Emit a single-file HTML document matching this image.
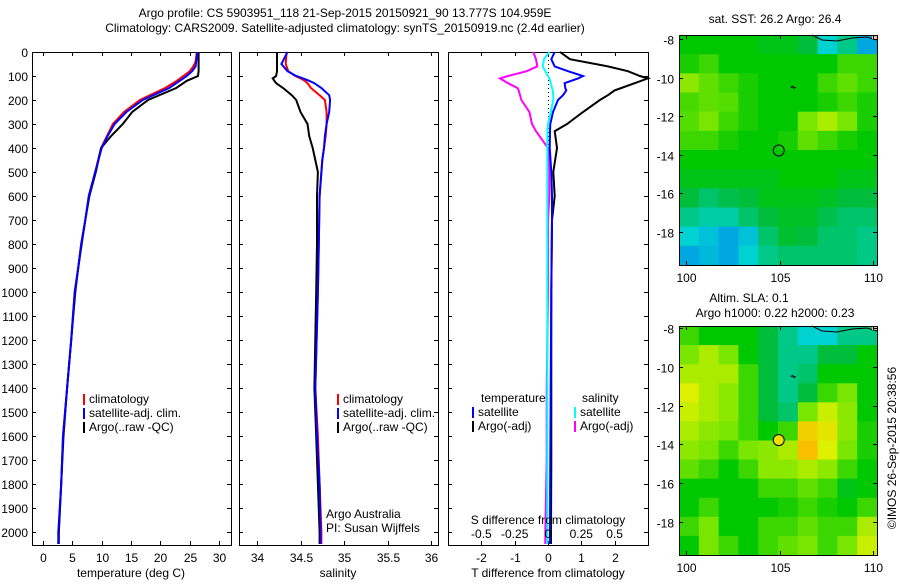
<!DOCTYPE html>
<html><head><meta charset="utf-8"><style>
body{margin:0;background:#fff}
svg text{font-family:"Liberation Sans",sans-serif;font-size:12px;fill:#000}
</style></head><body>
<svg id="c" width="900" height="580" xmlns="http://www.w3.org/2000/svg">
<text x="345" y="17" text-anchor="middle">Argo profile: CS 5903951_118 21-Sep-2015 20150921_90 13.777S 104.959E</text>
<text x="345" y="42" text-anchor="middle" dy="-10">Climatology: CARS2009. Satellite-adjusted climatology: synTS_20150919.nc (2.4d earlier)</text>
</svg>
<script>
// ---- data ----
const tDepth=[0,20,40,60,80,100,120,150,200,250,300,350,400,500,600,700,800,900,1000,1200,1400,1600,1800,2000,2050];
const tClim=[26.2,26.1,26.0,25.6,25.0,23.9,22.8,20.8,16.5,13.8,11.9,10.9,9.9,8.9,7.8,7.2,6.5,6.0,5.4,4.8,4.1,3.4,3.1,2.7,2.6];
const tSat=[26.3,26.2,26.1,26.0,25.4,24.5,23.3,21.5,17.0,14.2,12.2,11.0,10.0,8.9,7.8,7.2,6.5,6.0,5.4,4.8,4.1,3.4,3.1,2.6,2.6];
const tArgo=[26.5,26.5,26.5,26.5,26.5,26.4,24.5,22.7,17.9,15.2,13.6,11.6,9.9,9.0,7.9,7.2,6.6,6.0,5.5,4.8,4.1,3.5,3.1,2.7,2.7];
const sDepth=[0,50,80,100,110,120,130,150,180,200,250,300,350,400,450,500,600,800,1000,1400,1600,1800,2000,2050];
const sClim=[34.34,34.33,34.36,34.44,34.5,34.55,34.58,34.62,34.72,34.78,34.8,34.8,34.79,34.77,34.75,34.74,34.72,34.71,34.7,34.67,34.7,34.72,34.74,34.74];
const sSat=[34.35,34.28,34.35,34.45,34.53,34.6,34.66,34.74,34.83,34.84,34.83,34.8,34.78,34.77,34.75,34.74,34.72,34.71,34.7,34.67,34.69,34.72,34.73,34.73];
const sArgo=[34.23,34.23,34.23,34.22,34.18,34.2,34.22,34.3,34.4,34.45,34.5,34.58,34.6,34.64,34.67,34.7,34.69,34.69,34.68,34.66,34.68,34.7,34.72,34.72];
const dDepth=[0,30,60,80,100,110,130,150,160,180,200,250,300,330,400,500,600,700,1000,1400,1700,2000,2050];
const dTArgo=[0.36,0.66,1.8,2.4,2.76,3.0,2.6,2.2,2.0,1.8,1.56,1.05,0.57,0.2,0.27,0.16,0.2,0.12,0.1,0.1,0.1,0.09,0.09];
const dTSat=[0.2,0.1,0.2,0.6,1.05,0.9,0.5,0.52,0.55,0.45,0.3,0.15,0.07,0.06,0.05,0.1,0.12,0.12,0.1,0.08,0.07,0.06,0.06];
const dSArgo=[-0.11,-0.09,-0.08,-0.16,-0.3,-0.36,-0.3,-0.23,-0.22,-0.21,-0.2,-0.14,-0.12,-0.09,0,0.01,0.01,0.0,0.0,-0.01,-0.01,-0.02,-0.02];
const dSSat=[0.01,-0.03,-0.04,-0.02,0,0.01,0.02,0.03,0.035,0.04,0.04,0.02,0,-0.005,-0.005,-0.005,-0.005,-0.005,-0.005,-0.005,-0.005,-0.005,-0.005];
const depthTicks=[0,100,200,300,400,500,600,700,800,900,1000,1100,1200,1300,1400,1500,1600,1700,1800,1900,2000];
const tTicks=[0,5,10,15,20,25,30];
const sTicks=[34,34.5,35,35.5,36];
const dTTicks=[-2,-1,0,1,2];
const dSTicks=[-0.5,-0.25,0,0.25,0.5];
const dSTickLabels=["-0.5","-0.25","0","0.25","0.5"];
const sstGrid=[
[.5,.5,.5,.5,.48,.48,.45,.35,.4,.3],
[.52,.55,.5,.5,.5,.5,.5,.5,.55,.55],
[.62,.58,.55,.52,.5,.5,.5,.55,.58,.55],
[.56,.58,.57,.52,.5,.5,.5,.52,.55,.52],
[.57,.6,.55,.52,.5,.5,.6,.65,.6,.52],
[.55,.55,.52,.5,.5,.52,.58,.55,.52,.5],
[.5,.5,.5,.5,.5,.5,.5,.5,.5,.5],
[.48,.48,.48,.48,.48,.5,.5,.5,.48,.48],
[.45,.42,.44,.45,.48,.48,.48,.47,.45,.45],
[.4,.38,.38,.42,.45,.47,.47,.44,.42,.42],
[.35,.33,.3,.33,.42,.46,.45,.42,.42,.4],
[.3,.32,.3,.35,.4,.42,.42,.42,.42,.4]];
const slaGrid=[
[.55,.5,.5,.5,.45,.4,.35,.35,.4,.4],
[.6,.65,.6,.5,.45,.4,.4,.45,.45,.5],
[.65,.65,.65,.55,.45,.4,.42,.5,.5,.5],
[.7,.65,.62,.55,.45,.4,.45,.55,.6,.5],
[.68,.65,.62,.55,.45,.42,.6,.68,.62,.5],
[.65,.62,.6,.55,.5,.55,.75,.72,.62,.52],
[.62,.6,.55,.6,.62,.65,.78,.7,.6,.52],
[.58,.55,.5,.55,.62,.62,.65,.62,.55,.5],
[.5,.5,.5,.5,.55,.55,.58,.55,.48,.5],
[.5,.55,.5,.5,.5,.52,.55,.52,.5,.55],
[.55,.6,.5,.5,.55,.55,.58,.55,.55,.65],
[.5,.6,.55,.5,.55,.58,.6,.55,.6,.68]];
const lonTicks=[100,105,110];
const latTicks=[-8,-10,-12,-14,-16,-18];
const argoLon=104.959, argoLat=-13.777;

// ---- helpers ----
const svg=document.getElementById('c');
const NS='http://www.w3.org/2000/svg';
function mk(tag,attrs,parent){const e=document.createElementNS(NS,tag);for(const k in attrs)e.setAttribute(k,attrs[k]);(parent||svg).appendChild(e);return e;}
function txt(x,y,s,anchor,parent){const e=mk('text',{x:x,y:y,'text-anchor':anchor||'start'},parent);e.textContent=s;return e;}
const Y0=52,Y1=545;
const yD=d=>Y0+d*0.24;
function line(xs,ys,color,name,w){
  const pts=xs.map((x,i)=>x.toFixed(1)+','+ys[i].toFixed(1)).join(' ');
  const e=mk('polyline',{points:pts,fill:'none',stroke:color,'stroke-width':w||2});
  
  
}
function frame(x0,x1,name){
  const e=mk('rect',{x:x0+0.5,y:Y0+0.5,width:x1-x0,height:Y1-Y0,fill:'none',stroke:'#000'});
  
  
  depthTicks.forEach(d=>{const y=Math.round(yD(d))+0.5;mk('line',{x1:x0,x2:x0+4,y1:y,y2:y,stroke:'#000'});mk('line',{x1:x1-4,x2:x1,y1:y,y2:y,stroke:'#000'});});
}
function xticks(x0,x1,ticks,fx,labels,top){
  ticks.forEach((v,i)=>{const x=Math.round(fx(v))+0.5;
    mk('line',{x1:x,x2:x,y1:Y1-4,y2:Y1,stroke:'#000'});
    if(top)mk('line',{x1:x,x2:x,y1:Y0,y2:Y0+4,stroke:'#000'});
    const t=txt(x,Y1+17,labels?labels[i]:String(v),'middle');
    
    
  });
}
function legend(x,y,items){
  items.forEach((it,i)=>{
    const yy=y+i*14;
    const m=mk('rect',{x:x,y:yy-9,width:2,height:11,fill:it[0]});
    
    
    const t=txt(x+6,yy,it[1]);
    
    
  });
}

// ---- depth labels ----
depthTicks.forEach(d=>{const t=txt(28,yD(d)+5,String(d),'end');
  
  });

// ---- panel 1: temperature ----
const xT=v=>43+v*5.87;
frame(32,231,'temperature-panel');
xticks(32,231,tTicks,xT,null,true);
line(tClim.map(xT),tDepth.map(yD),'#f00','temperature-climatology-line');
line(tArgo.map(xT),tDepth.map(yD),'#000','temperature-argo-line');
line(tSat.map(xT),tDepth.map(yD),'#00f','temperature-satellite-line');
legend(83,403,[['#f00','climatology'],['#00f','satellite-adj. clim.'],['#000','Argo(..raw -QC)']]);
let t=txt(131,577,'temperature (deg C)','middle');

// ---- panel 2: salinity ----
const xS=v=>257+(v-34)*87;
frame(239,438,'salinity-panel');
xticks(239,438,sTicks,xS,null,true);
line(sClim.map(xS),sDepth.map(yD),'#f00','salinity-climatology-line');
line(sArgo.map(xS),sDepth.map(yD),'#000','salinity-argo-line');
line(sSat.map(xS),sDepth.map(yD),'#00f','salinity-satellite-line');
legend(337,403,[['#f00','climatology'],['#00f','satellite-adj. clim.'],['#000','Argo(..raw -QC)']]);
t=txt(326,518,'Argo Australia');
t=txt(326,532,'PI: Susan Wijffels');
t=txt(338,577,'salinity','middle');

// ---- panel 3: differences ----
const xDT=v=>548+v*33.3;
const xDS=v=>548+v*133.2;
frame(448,648,'difference-panel');
xticks(448,648,dTTicks,xDT,null,true);
mk('line',{x1:548.5,x2:548.5,y1:Y0,y2:150,stroke:'#000','stroke-dasharray':'1,3'});
line(dSArgo.map(xDS),dDepth.map(yD),'#f0f','salinity-diff-argo-line');
line(dTArgo.map(xDT),dDepth.map(yD),'#000','temperature-diff-argo-line');
line(dTSat.map(xDT),dDepth.map(yD),'#00f','temperature-diff-satellite-line');
line(dSSat.map(xDS),dDepth.map(yD),'#0ff','salinity-diff-satellite-line');
t=txt(481,402,'temperature');
t=txt(582,402,'salinity');
legend(472,416,[['#00f','satellite'],['#000','Argo(-adj)']]);
legend(574,416,[['#0ff','satellite'],['#f0f','Argo(-adj)']]);
t=txt(548,524,'S difference from climatology','middle');
dSTicks.forEach((v,i)=>{const e=txt(xDS(v),538,dSTickLabels[i],'middle');
  
  });
t=txt(548,577,'T difference from climatology','middle');

// ---- maps ----
function col(v){
  const stops=[[0.2,[0,80,255]],[0.35,[0,210,210]],[0.45,[0,190,60]],[0.5,[0,200,0]],[0.6,[120,230,0]],[0.7,[220,240,0]],[0.78,[250,190,0]],[0.9,[250,120,0]]];
  if(v<=stops[0][0])return 'rgb('+stops[0][1]+')';
  for(let i=1;i<stops.length;i++){if(v<=stops[i][0]){const a=stops[i-1],b=stops[i],f=(v-a[0])/(b[0]-a[0]);
    return 'rgb('+a[1].map((c,j)=>Math.round(c+(b[1][j]-c)*f)).join(',')+')';}}
  return 'rgb('+stops[stops.length-1][1]+')';
}
function map(x0,x1,y0,y1,lat8y,lat18y,grid,name,circleFill,titles){
  const lonX=l=>686+(l-100)*18.7;
  const latY=l=>lat8y+(-8-l)*(lat18y-lat8y)/10;
  const g=mk('g',{});
  
  
  const rows=grid.length,cols=grid[0].length;
  const cw=(x1-x0)/cols,ch=(y1-y0)/rows;
  grid.forEach((r,i)=>r.forEach((v,j)=>{
    const c=mk('rect',{x:x0+j*cw,y:y0+i*ch,width:cw+0.6,height:ch+0.6,fill:col(v)},g);
    
    
  }));
  mk('polyline',{points:`${x1-65},${y0} ${x1-55},${y0+5} ${x1-40},${y0+6} ${x1-25},${y0+3} ${x1-10},${y0+2} ${x1},${y0+5}`,fill:'none',stroke:'#000','stroke-width':1},g);
  mk('rect',{x:x1-5,y:y0,width:5,height:4,fill:'#f0c090'},g);
  mk('path',{d:`M${lonX(105.6)},${latY(-10.5)} l2,-1 l1,2 l2,-1`,stroke:'#000',fill:'none','stroke-width':1.2},g);
  const cc=mk('circle',{cx:lonX(argoLon),cy:latY(argoLat),r:5.5,fill:circleFill,stroke:'#000','stroke-width':1},g);
  
  
  mk('rect',{x:x0+0.5,y:y0+0.5,width:x1-x0,height:y1-y0,fill:'none',stroke:'#000'},g);
  latTicks.forEach(l=>{const y=Math.round(latY(l))+0.5;
    mk('line',{x1:x0,x2:x0+4,y1:y,y2:y,stroke:'#000'},g);mk('line',{x1:x1-4,x2:x1,y1:y,y2:y,stroke:'#000'},g);
    const e=txt(x0-5,y+5,String(l),'end',g);
    
    });
  lonTicks.forEach(l=>{const x=Math.round(lonX(l))+0.5;
    mk('line',{x1:x,x2:x,y1:y0,y2:y0+4,stroke:'#000'},g);mk('line',{x1:x,x2:x,y1:y1-4,y2:y1,stroke:'#000'},g);
    const e=txt(x,y1+17,String(l),'middle',g);
    
    });
  titles.forEach(tt=>{const e=txt(tt[0],tt[1],tt[2],'middle',g);
    
    });
}
map(679,877,35,265,39,232,sstGrid,'sst-map','none',[[775,23,'sat. SST: 26.2 Argo: 26.4']]);
map(679,877,326,555,328,522,slaGrid,'sla-map','#f0e000',[[749,302,'Altim. SLA: 0.1'],[775,317,'Argo h1000: 0.22 h2000: 0.23']]);
t=txt(0,0,'©IMOS 26-Sep-2015 20:38:56','middle');
t.setAttribute('transform','translate(896,448) rotate(-90)');


</script>
</body></html>
